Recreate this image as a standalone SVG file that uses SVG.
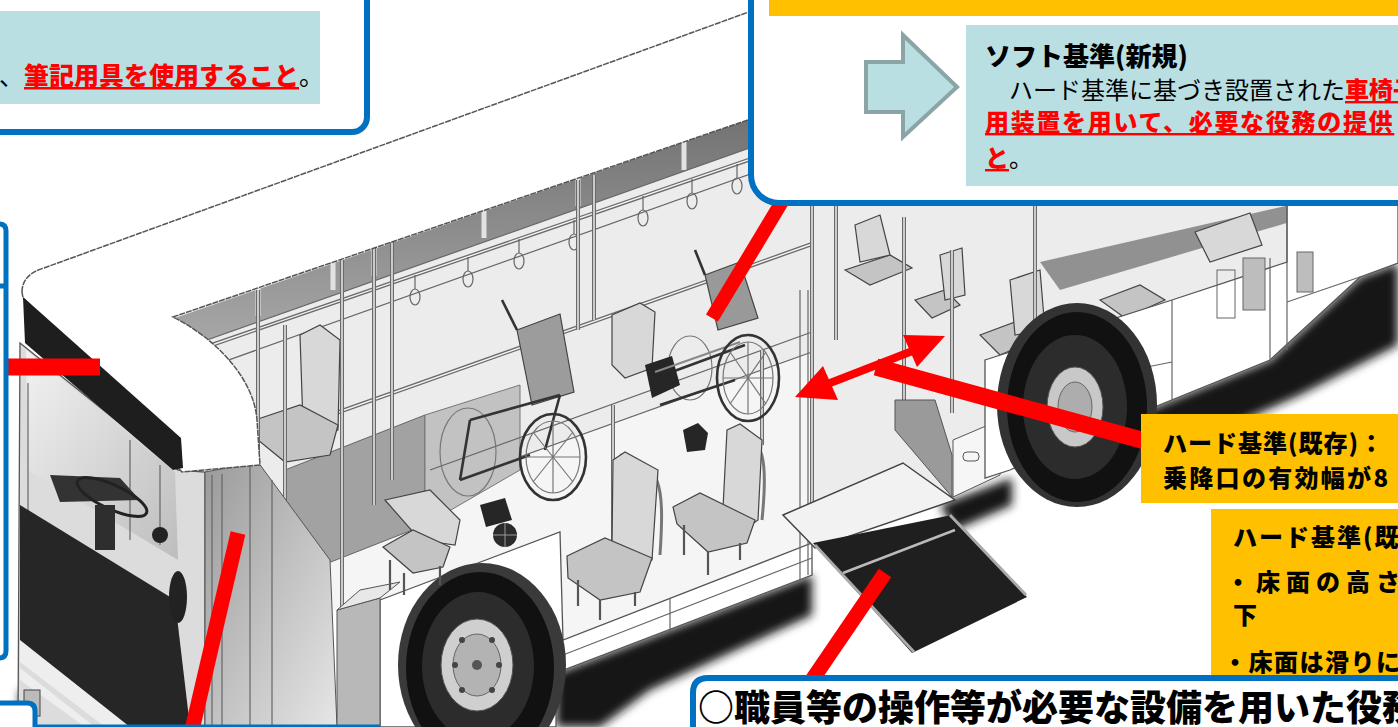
<svg xmlns="http://www.w3.org/2000/svg" width="1398" height="727" viewBox="0 0 1398 727">
<defs>
<style>
.t{font-family:"Noto Sans CJK JP","Noto Sans",sans-serif;fill:#000}
.b{font-weight:900}
.rd{fill:#ff0000;font-weight:900;text-decoration:underline}
.wh{fill:#fff;stroke:#555;stroke-width:1.3}
.seat{fill:#d8d8d8;stroke:#444;stroke-width:1.2}
.seat2{fill:#c4c4c4;stroke:#444;stroke-width:1.2}
.pole{fill:none;stroke:#6a6a6a;stroke-width:4}
.poleh{fill:none;stroke:#f4f4f4;stroke-width:1.4}
.thin{fill:none;stroke:#666;stroke-width:1.2}
.leg{fill:none;stroke:#555;stroke-width:2.2}
.wc{fill:none;stroke:#333;stroke-width:2.6}
.wci{fill:none;stroke:#777;stroke-width:1.2}
.dk{fill:#262626}
.blue{fill:#fff;stroke:#0070C0;stroke-width:6}
.conn{stroke:#ff0000;fill:none}
</style>
<filter id="blur" x="-20%" y="-20%" width="140%" height="140%"><feGaussianBlur stdDeviation="5"/></filter>
<linearGradient id="gDoor" x1="0" y1="0" x2="1" y2="1"><stop offset="0" stop-color="#9a9a9a"/><stop offset="1" stop-color="#e6e6e6"/></linearGradient>
<linearGradient id="gWin" x1="0" y1="0" x2="0" y2="1"><stop offset="0" stop-color="#6e6e6e"/><stop offset="1" stop-color="#a8a8a8"/></linearGradient>
<linearGradient id="gShield" x1="0" y1="0" x2="1" y2="1"><stop offset="0" stop-color="#f2f2f2"/><stop offset="1" stop-color="#bdbdbd"/></linearGradient>
</defs>
<rect x="0" y="0" width="1398" height="727" fill="#fff"/>

<g id="bus">
  <g filter="url(#blur)" fill="#151515">
    <polygon points="556,673 812,575 812,615 650,690 600,727 556,727"/>
    <polygon points="940,505 1012,478 1012,505 955,530"/>
    <polygon points="1147,410 1270,360 1360,277 1398,263 1398,345 1300,395 1200,440 1147,455"/>
    <polygon points="20,690 60,700 120,727 20,727"/>
  </g>
  <polygon points="173,317 812,98 812,352 255,552 252,400" fill="#ececec"/>
  <polygon points="812,205 1290,205 1287,262 1172,300 985,360 985,478 812,543" fill="#ececec"/>
  <polygon points="175,318 812,98 812,126 190,346" fill="url(#gWin)"/>
  <g stroke="#e2e2e2" stroke-width="5">
    <line x1="258" y1="288" x2="258" y2="316"/><line x1="333" y1="262" x2="333" y2="290"/>
    <line x1="374" y1="248" x2="374" y2="276"/><line x1="484" y1="210" x2="484" y2="238"/>
    <line x1="578" y1="178" x2="578" y2="206"/><line x1="684" y1="142" x2="684" y2="170"/>
  </g>
  <line x1="190" y1="346" x2="812" y2="126" class="thin"/>
  <line x1="195" y1="372" x2="812" y2="152" class="thin"/>
  <polygon points="255,552 812,352 812,543 563,640 560,532 380,600 337,612" fill="#f5f5f5"/>
  <line x1="255" y1="552" x2="812" y2="352" class="thin"/>
  <polygon points="285,470 425,415 425,525 290,578" fill="#a2a2a2" stroke="#666" stroke-width="1"/>
  <polygon points="425,415 520,385 520,470 425,525" fill="#c2c2c2" stroke="#777" stroke-width="1"/>
  <path d="M200,349 L812,138" class="pole"/><path d="M200,349 L812,138" class="poleh"/>
  <path d="M260,440 L812,244" class="pole"/><path d="M260,440 L812,244" class="poleh"/>
  <path d="M430,470 L812,332" class="thin"/>
  <g class="thin" stroke-width="1.5">
    <path d="M415,275 v14"/><ellipse cx="415" cy="297" rx="5" ry="8"/>
    <path d="M468,257 v14"/><ellipse cx="468" cy="279" rx="5" ry="8"/>
    <path d="M519,239 v14"/><ellipse cx="519" cy="261" rx="5" ry="8"/>
    <path d="M574,220 v14"/><ellipse cx="574" cy="242" rx="5" ry="8"/>
    <path d="M643,196 v14"/><ellipse cx="643" cy="218" rx="5" ry="8"/>
    <path d="M692,179 v14"/><ellipse cx="692" cy="201" rx="5" ry="8"/>
    <path d="M737,164 v14"/><ellipse cx="737" cy="186" rx="5" ry="8"/>
  </g>
  <path d="M300,335 L320,325 L340,340 L338,430 L318,440 L303,425 Z" class="seat"/>
  <path d="M255,420 L300,405 L338,425 L330,455 L285,462 L258,440 Z" class="seat2"/>
  <path d="M612,315 L640,303 L655,312 L652,368 L625,378 L612,365 Z" class="seat"/>
  <path d="M845,270 L890,255 L912,268 L870,285 Z" class="seat2"/>
  <path d="M855,225 L880,215 L890,255 L860,262 Z" class="seat"/>
  <path d="M915,300 L945,290 L960,305 L932,318 Z" class="seat2"/>
  <path d="M940,255 L962,248 L965,295 L945,300 Z" class="seat"/>
  <path d="M980,335 L1015,322 L1035,340 L1000,355 Z" class="seat2"/>
  <path d="M1010,280 L1040,270 L1045,330 L1015,335 Z" class="seat"/>
  <polygon points="1040,262 1290,205 1290,222 1060,290" fill="#7a7a7a" opacity="0.8"/>
  <path d="M1195,232 L1250,213 L1262,245 L1210,262 Z" class="seat"/>
  <path d="M1100,300 L1140,285 L1165,300 L1125,318 Z" class="seat2"/>
  <g>
    <path d="M258,290 V460 M285,325 V520 M342,260 V620 M374,245 V505 M392,240 V480 M578,180 V330 M594,175 V320 M613,405 V560 M762,350 V445 M812,205 V545 M836,205 V340 M904,217 V413 M952,250 V413 M1035,205 V360" class="pole"/>
    <path d="M258,290 V460 M285,325 V520 M342,260 V620 M374,245 V505 M392,240 V480 M578,180 V330 M594,175 V320 M613,405 V560 M762,350 V445 M812,205 V545 M836,205 V340 M904,217 V413 M952,250 V413 M1035,205 V360" class="poleh"/>
    <path d="M620,455 C660,465 665,480 660,555" fill="none" stroke="#777" stroke-width="3"/>
    <path d="M735,428 C765,440 768,460 762,520" fill="none" stroke="#777" stroke-width="3"/>
  </g>
  <g>
    <ellipse cx="468" cy="452" rx="28" ry="44" class="wci" stroke-width="2"/>
    <path d="M517,330 L560,314 L574,392 L532,405 Z" fill="#9c9c9c" stroke="#444" stroke-width="1.2"/>
    <path d="M470,420 L560,395 M460,480 L530,455 M517,330 L502,300 M470,420 L460,480 M560,395 L545,450" class="wc" stroke-width="2"/>
    <ellipse cx="553" cy="457" rx="33" ry="43" class="wc"/>
    <ellipse cx="553" cy="457" rx="27" ry="36" class="wci"/>
    <path d="M553,421 V493 M526,457 H580 M533,432 L573,482 M573,432 L533,482" class="wci"/>
    <path d="M480,505 L505,498 L512,520 L486,527 Z" class="dk"/>
    <circle cx="505" cy="535" r="12" fill="#2b2b2b"/>
    <path d="M493,535 H517 M505,523 V547" stroke="#999" stroke-width="1"/>
  </g>
  <g>
    <ellipse cx="690" cy="368" rx="22" ry="32" class="wci" stroke-width="2"/>
    <path d="M705,275 L740,262 L758,318 L718,330 Z" fill="#999" stroke="#444" stroke-width="1.2"/>
    <path d="M650,380 L745,345 M660,405 L735,380 M705,275 L695,250" class="wc" stroke-width="2"/>
    <path d="M645,365 L672,356 L680,385 L652,398 Z" class="dk"/>
    <path d="M655,372 L740,342" stroke="#888" stroke-width="2"/>
    <ellipse cx="748" cy="378" rx="31" ry="43" class="wc"/>
    <ellipse cx="748" cy="378" rx="25" ry="36" class="wci"/>
    <path d="M748,342 V414 M723,378 H773 M730,352 L766,404 M766,352 L730,404" class="wci"/>
    <path d="M683,430 L698,423 L708,433 L705,450 L687,452 Z" class="dk"/>
  </g>
  <polygon points="20,343 178,470 205,472 205,727 18,727" fill="#dcdcdc" stroke="#555" stroke-width="1.3"/>
  <polygon points="26,350 175,472 178,560 28,470" fill="url(#gShield)"/>
  <path d="M28,383 V533 M130,440 V540 M160,465 V545" class="thin"/>
  <polygon points="50,475 120,478 140,500 60,502" fill="#333"/>
  <ellipse cx="112" cy="497" rx="38" ry="12" transform="rotate(25 112 497)" fill="none" stroke="#222" stroke-width="3"/>
  <rect x="95" y="505" width="20" height="45" fill="#2e2e2e"/>
  <polygon points="20,505 175,600 190,727 120,727 20,650" fill="#262626"/>
  <polygon points="20,640 130,727 105,727 20,662" fill="#eeeeee"/>
  <polygon points="20,668 95,727 85,727 20,680" fill="#eeeeee"/>
  <rect x="24" y="690" width="16" height="26" fill="#bbb" stroke="#444"/>
  <circle cx="160" cy="535" r="8" fill="#222"/>
  <ellipse cx="178" cy="597" rx="9" ry="26" fill="#222"/>
  <polygon points="205,472 258,462 330,560 337,727 205,727" fill="url(#gDoor)" stroke="#555" stroke-width="1"/>
  <path d="M212,475 V727 M222,474 V727 M250,466 V727 M272,480 L272,727" class="thin"/>
  <path d="M22,292 C22,280 30,272 44,268 L812,-11 L812,98 L173,317 C215,338 254,378 257,420 L260,465 L182,472 L23,298 Z" fill="#fff" stroke="#555" stroke-width="1.5" stroke-dasharray="6 1"/>
  <polygon points="23,297 181,438 183,468 173,470 25,343" fill="#1e1e1e"/>
  <polygon points="380,600 560,532 563,640 812,543 812,575 556,673 556,727 380,727" class="wh"/>
  <path d="M563,655 L812,558 M670,598 V632" class="thin"/>
  <polygon points="337,610 380,598 380,727 337,727" fill="#b8b8b8" stroke="#555"/>
  <polygon points="337,610 360,590 400,582 380,598" fill="#e8e8e8" stroke="#555"/>
  <ellipse cx="482" cy="665" rx="84" ry="102" fill="#3a3a3a"/>
  <ellipse cx="480" cy="668" rx="74" ry="96" fill="#111"/>
  <ellipse cx="478" cy="666" rx="56" ry="74" fill="#2c2c2c"/>
  <ellipse cx="477" cy="665" rx="36" ry="46" fill="#cfcfcf" stroke="#555"/>
  <ellipse cx="477" cy="665" rx="24" ry="31" fill="#b3b3b3" stroke="#666"/>
  <circle cx="477" cy="665" r="5" fill="#555"/>
  <g fill="#444"><circle cx="462" cy="640" r="3"/><circle cx="492" cy="640" r="3"/><circle cx="462" cy="690" r="3"/><circle cx="492" cy="690" r="3"/><circle cx="455" cy="665" r="3"/><circle cx="499" cy="665" r="3"/></g>
  <polygon points="895,400 935,400 952,455 952,497 895,430" fill="#9a9a9a" stroke="#555"/>
  <polygon points="953,440 1000,420 1000,475 953,497" fill="#f6f6f6" stroke="#555"/>
  <rect x="963" y="452" width="16" height="9" rx="4" fill="none" stroke="#555"/>
  <path d="M800,290 V580 M808,290 V575" class="thin"/>
  <polygon points="783,515 903,463 955,500 815,548" fill="#f2f2f2" stroke="#444" stroke-width="1.5"/>
  <polygon points="813,543 952,515 1027,597 912,653" fill="#1f1f1f"/>
  <path d="M815,545 L914,652 M950,515 L1026,595" stroke="#aaa" stroke-width="3" fill="none"/>
  <path d="M843,573 L955,530" stroke="#bbb" stroke-width="2.5" fill="none"/>
  <polygon points="985,360 1172,300 1287,262 1287,205 1398,205 1398,263 1360,277 1270,360 1147,410 1010,470 985,478" class="wh"/>
  <path d="M1172,300 V400 M1270,258 V360 M1287,205 V350 M1287,302 L1360,277 M1147,367 L1172,362" class="thin"/>
  <rect x="1217" y="270" width="18" height="48" fill="none" stroke="#666"/>
  <rect x="1243" y="258" width="22" height="52" fill="#bdbdbd" stroke="#666"/>
  <rect x="1297" y="252" width="16" height="40" fill="#bdbdbd" stroke="#666"/>
  <ellipse cx="1077" cy="405" rx="80" ry="102" fill="#333"/>
  <ellipse cx="1077" cy="407" rx="70" ry="95" fill="#111"/>
  <ellipse cx="1075" cy="407" rx="52" ry="72" fill="#2c2c2c"/>
  <ellipse cx="1075" cy="407" rx="28" ry="40" fill="#c8c8c8" stroke="#555"/>
  <ellipse cx="1075" cy="407" rx="17" ry="25" fill="#adadad" stroke="#666"/>
  <path d="M385,500 L430,490 L460,520 L455,545 L420,540 Z" class="seat"/>
  <path d="M383,547 L413,530 L450,547 L443,567 L413,573 Z" class="seat2"/>
  <path d="M390,560 V590 M404,573 V595 M440,566 V585" class="leg"/>
  <path d="M613,460 L625,452 L658,470 L652,560 L640,567 L612,548 Z" class="seat"/>
  <path d="M567,556 L605,538 L652,558 L640,592 L600,600 L568,578 Z" class="seat2"/>
  <path d="M578,580 V606 M600,600 V620 M635,592 V606" class="leg"/>
  <path d="M727,430 L740,424 L762,440 L758,520 L747,528 L723,508 Z" class="seat"/>
  <path d="M673,507 L700,493 L755,520 L747,543 L708,552 L677,524 Z" class="seat2"/>
  <path d="M684,525 V555 M708,552 V575 M740,543 V560" class="leg"/>
</g>

<g id="connectors">
  <line x1="8" y1="367" x2="100" y2="367" class="conn" stroke-width="17"/>
  <line x1="238" y1="533" x2="192" y2="730" class="conn" stroke-width="15"/>
  <line x1="783" y1="200" x2="712" y2="318" class="conn" stroke-width="14"/>
  <line x1="885" y1="573" x2="810" y2="683" class="conn" stroke-width="15"/>
  <line x1="1145" y1="441" x2="876" y2="367" class="conn" stroke-width="17"/>
  <line x1="825" y1="385" x2="915" y2="350" class="conn" stroke-width="8"/>
  <polygon points="795,397 823,366 838,400" fill="#f00"/>
  <polygon points="945,336 903,335 917,367" fill="#f00"/>
</g>

<g id="note-top-left">
  <path d="M-10,-10 H367 V117 A15,15 0 0 1 352,132 H-10 Z" class="blue"/>
  <rect x="0" y="11" width="320" height="93" fill="#B9DFE3"/>
  <text class="t" x="-1" y="85" font-size="25">、<tspan class="rd">筆記用具を使用すること</tspan>。</text>
</g>

<g id="note-left">
  <path d="M-10,224 H-1 Q6,224 6,231 V651 Q6,658 -1,658 H-10 Z" fill="#fff" stroke="#0070C0" stroke-width="5"/>
  <line x1="-5" y1="286" x2="6" y2="286" stroke="#0070C0" stroke-width="5"/>
</g>

<g id="note-top-right">
  <path d="M751,-10 V175 A28,28 0 0 0 779,203 H1410 V-10 Z" class="blue"/>
  <rect x="769" y="0" width="640" height="16" fill="#FFC000"/>
  <polygon points="866,62 903,62 903,35 957,87 903,137 903,112 866,112" fill="#B9DFE3" stroke="#8BA4A6" stroke-width="4"/>
  <rect x="966" y="25" width="440" height="161" fill="#B9DFE3"/>
  <text class="t b" x="985" y="66" font-size="26">ソフト基準(新規)</text>
  <text class="t" x="985" y="99" font-size="24">　ハード基準に基づき設置された<tspan class="rd">車椅子</tspan></text>
  <text class="t rd" x="985" y="131" font-size="24" letter-spacing="1.7">用装置を用いて、必要な役務の提供</text>
  <text class="t" x="985" y="167" font-size="24"><tspan class="rd">と</tspan>。</text>
</g>

<g id="hard-door">
  <rect x="1141" y="414" width="270" height="89" fill="#FFC000"/>
  <text class="t b" x="1163" y="452" font-size="24" letter-spacing="1">ハード基準(既存)：</text>
  <text class="t b" x="1163" y="487" font-size="24" letter-spacing="2.3">乗降口の有効幅が8</text>
</g>

<g id="hard-floor">
  <rect x="1211" y="509" width="200" height="172" fill="#FFC000"/>
  <text class="t b" x="1233" y="546" font-size="24" letter-spacing="2">ハード基準(既</text>
  <text class="t b" x="1226" y="591" font-size="24" letter-spacing="6">・床面の高さ</text>
  <text class="t b" x="1233" y="624" font-size="24">下</text>
  <text class="t b" x="1223" y="671" font-size="24" letter-spacing="1.5">・床面は滑りに</text>
</g>

<g id="note-bottom-left">
  <path d="M-10,703 H27 Q35,703 35,711 V740 H-10 Z" fill="#fff" stroke="#0070C0" stroke-width="5"/>
  <path d="M35,727 H380" stroke="#0070C0" stroke-width="5"/>
</g>

<g id="note-bottom-right">
  <path d="M693,740 V693 Q693,678 708,678 H1410 V740 Z" class="blue"/>
  <text class="t b" x="698" y="721" font-size="36">○職員等の操作等が必要な設備を用いた役務</text>
</g>
</svg>
